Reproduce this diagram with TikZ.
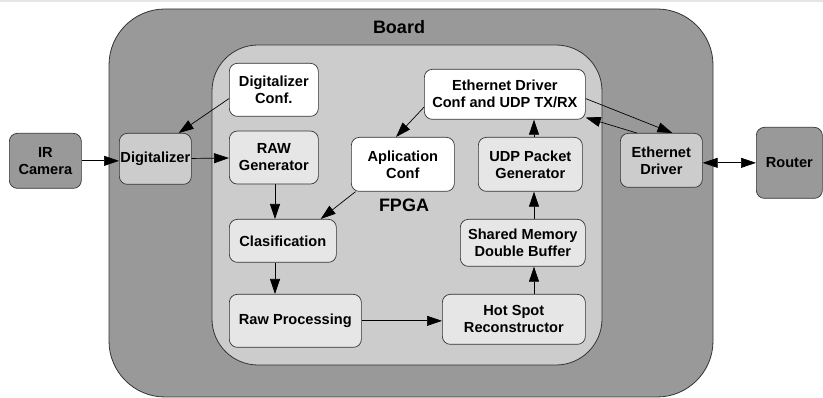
\documentclass[tikz,border=0pt]{standalone}
\usepackage{fontspec}
\setmainfont{Liberation Sans}
\usepackage{xcolor}
\usetikzlibrary{positioning,arrows.meta}

\definecolor{boardgray}{HTML}{999999}
\definecolor{fpgagray}{HTML}{CCCCCC}
\definecolor{blockgray}{HTML}{E6E6E6}
\definecolor{edgegray}{HTML}{333333}

\begin{document}
\begin{tikzpicture}[
  x=1pt, y=-1pt,
  node distance=14pt and 14pt,
  box/.style={draw=edgegray, line width=0.7pt, rounded corners=8pt, align=center, anchor=north west,
    inner sep=1pt, font=\bfseries\fontsize{14.6}{17}\selectfont},
  title/.style={font=\bfseries\fontsize{18}{20}\selectfont},
  flow/.style={-{Triangle[length=15pt,width=10pt]}, line width=0.7pt},
  twoway/.style={{Triangle[length=15pt,width=10pt]}-{Triangle[length=15pt,width=10pt]}, line width=0.7pt}
]
\useasboundingbox (0,0) rectangle (823,398);
\fill[black!10] (0,0) rectangle (823,2);

% board and fpga
\draw[fill=boardgray, draw=edgegray, line width=0.8pt, rounded corners=56pt] (109,9) rectangle (713,397);
\draw[fill=fpgagray, draw=edgegray, line width=0.8pt, rounded corners=46pt] (212,45) rectangle (602,365);
\node[title] (boardlbl) at (399,27) {Board};
\node[title] (fpgalbl) at (404,205) {FPGA};

% outside the board
\node[box, fill=boardgray, minimum width=72pt, minimum height=55pt] (ircam) at (9,133) {IR\\Camera};
\node[box, fill=boardgray, minimum width=66pt, minimum height=71pt] (router) at (756,127) {Router};

% on the board
\node[box, fill=fpgagray, inner sep=0pt, minimum width=72pt, minimum height=51pt] (digit) at (119,133) {Digitalizer};
\node[box, fill=fpgagray, minimum width=82pt, minimum height=54pt] (ethdrv) at (620,133) {Ethernet\\Driver};

% inside the fpga
\node[box, fill=white, minimum width=89pt, minimum height=53pt] (dconf) at (229,63) {Digitalizer\\Conf.};
\node[box, fill=blockgray, minimum width=89pt, minimum height=53pt, below=14pt of dconf.south west, anchor=north west] (rawgen) {RAW\\Generator};
\node[box, fill=blockgray, minimum width=107pt, minimum height=43pt] (clasif) at (229,219) {Clasification};
\node[box, fill=blockgray, minimum width=132pt, minimum height=53pt] (rawproc) at (229,294) {Raw Processing};
\node[box, fill=white, minimum width=103pt, minimum height=54pt] (appconf) at (351,137) {Aplication\\Conf};
\node[box, fill=white, minimum width=161pt, minimum height=50pt] (ethconf) at (424,69) {Ethernet Driver\\Conf and UDP TX/RX};
\node[box, fill=blockgray, minimum width=104pt, minimum height=54pt] (udpgen) at (478,137) {UDP Packet\\Generator};
\node[box, fill=blockgray, minimum width=125pt, minimum height=47pt] (shmem) at (460,219) {Shared Memory\\Double Buffer};
\node[box, fill=blockgray, minimum width=143pt, minimum height=50pt] (hotspot) at (442,294) {Hot Spot\\Reconstructor};

\coordinate (leftcol) at (275,0);
\coordinate (rightcol) at (534,0);

\draw[flow] (ircam.east) -- (digit.west |- ircam.east);
\draw[flow] (digit) -- (rawgen);
\draw[flow] (dconf.191) -- (digit.48);
\draw[flow] (rawgen.south -| leftcol) -- (clasif.north -| leftcol);
\draw[flow] (clasif.south -| leftcol) -- (rawproc.north -| leftcol);
\draw[flow] (appconf.210) -- (clasif.30);
\draw[flow] (ethconf.189) -- (appconf.104);
\draw[flow] (rawproc.east) -- (rawproc.east -| hotspot.west);
\draw[flow] (hotspot.north -| rightcol) -- (shmem.south -| rightcol);
\draw[flow] (shmem.north -| rightcol) -- (udpgen.south -| rightcol);
\draw[flow] (udpgen.north -| rightcol) -- (ethconf.south -| rightcol);
\draw[flow] (ethconf.357) -- (ethdrv.68);
\draw[flow] (ethdrv.132) -- (ethconf.344);
\draw[twoway] (ethdrv.east |- router.west) -- (router.west);
\end{tikzpicture}
\end{document}
